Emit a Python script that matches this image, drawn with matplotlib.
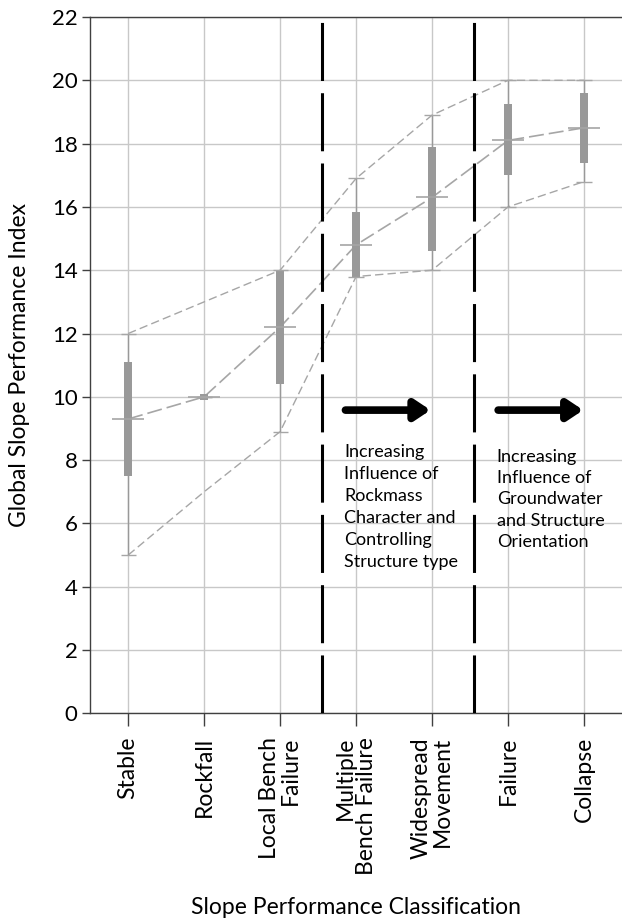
import numpy as np
import matplotlib
matplotlib.use("Agg")
import matplotlib.pyplot as plt

plt.rcParams['font.family'] = ['Lato', 'DejaVu Sans']

# slope performance classes and the index statistics for each
classes = ['Stable', 'Rockfall', 'Local Bench\nFailure', 'Multiple\nBench Failure',
           'Widespread\nMovement', 'Failure', 'Collapse']
gspi_min = [5.0, 10.0, 8.9, 13.8, 14.0, 16.0, 16.8]
gspi_q1 = [7.5, 9.9, 10.4, 13.8, 14.6, 17.0, 17.4]
gspi_med = [9.3, 10.0, 12.2, 14.8, 16.3, 18.1, 18.5]
gspi_q3 = [11.1, 10.1, 14.0, 15.85, 17.9, 19.25, 19.6]
gspi_max = [12.0, 10.0, 14.0, 16.9, 18.9, 20.0, 20.0]

# envelope lines drawn through the chart
upper_env = [12.0, 13.0, 14.0, 16.9, 18.9, 20.0, 20.0]
lower_env = [5.0, 7.0, 8.9, 13.8, 14.0, 16.0, 16.8]

zone_bounds = [2.55, 4.55]
notes = ['Increasing\nInfluence of\nRockmass\nCharacter and\nControlling\nStructure type',
         'Increasing\nInfluence of\nGroundwater\nand Structure\nOrientation']

grey = '#999999'
line_grey = '#a6a6a6'

fig = plt.figure(figsize=(6.22, 9.24), dpi=100)
ax = fig.add_axes([0.145, 0.228, 0.855, 0.7536])

x = np.arange(len(classes))

ax.grid(True, color='#c8c8c8', lw=1)
ax.set_axisbelow(True)

# envelope and median trend lines
ax.plot(x, upper_env, color=line_grey, lw=1, dashes=(6, 3), zorder=3)
ax.plot(x, lower_env, color=line_grey, lw=1, dashes=(6, 3), zorder=3)
ax.plot(x, gspi_med, color=line_grey, lw=1.2, dashes=(9, 3), zorder=3)

# box and whisker marks
ax.vlines(x, gspi_min, gspi_max, color=grey, lw=1, zorder=4)
ax.bar(x, np.array(gspi_q3) - np.array(gspi_q1), bottom=gspi_q1, width=0.105,
       color=grey, zorder=5)
ax.hlines(gspi_min, x - 0.1, x + 0.1, color=line_grey, lw=1, zorder=6)
ax.hlines(gspi_max, x - 0.1, x + 0.1, color=line_grey, lw=1, zorder=6)
ax.hlines(gspi_med, x - 0.21, x + 0.21, color=line_grey, lw=1.2, zorder=6)

# zone boundaries
for xb in zone_bounds:
    ax.axvline(xb, color='black', lw=2.2, dashes=(19, 4), zorder=7)

# arrows and notes
for x0, x1 in [(2.86, 3.98), (4.87, 5.99)]:
    ax.annotate('', xy=(x1, 9.58), xytext=(x0, 9.58),
                arrowprops=dict(arrowstyle='-|>,head_length=0.9,head_width=0.6',
                                color='black', lw=5.5, shrinkA=0, shrinkB=0), zorder=8)
ax.text(2.84, 8.5, notes[0], fontsize=13, va='top', ha='left', linespacing=1.45, zorder=8)
ax.text(4.85, 8.35, notes[1], fontsize=13, va='top', ha='left', linespacing=1.4, zorder=8)

ax.set_xlim(-0.5, 6.5)
ax.set_ylim(0, 22)
ax.set_yticks(np.arange(0, 23, 2))
ax.set_xticks(x)
ax.set_xticklabels(classes, rotation=90, fontsize=16.5, multialignment='right',
                   linespacing=1.0)
ax.tick_params(axis='y', labelsize=16, length=6, width=1, color='#404040', pad=3)
ax.tick_params(axis='x', length=9, width=1, color='#404040', pad=8)

for s in ['left', 'bottom', 'top']:
    ax.spines[s].set_color('#404040')
    ax.spines[s].set_linewidth(1)
ax.spines['right'].set_visible(False)

ax.set_ylabel('Global Slope Performance Index', fontsize=16.5, labelpad=16)
ax.set_xlabel('Slope Performance Classification', fontsize=16.5, labelpad=16)

fig.savefig('out.png', dpi=100)
